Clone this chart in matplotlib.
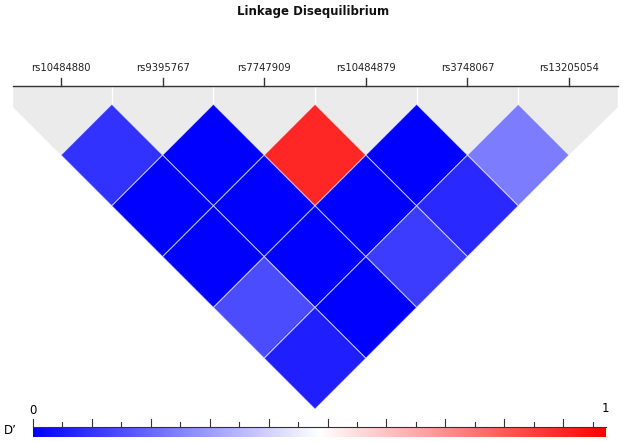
import numpy as np
import matplotlib
matplotlib.use("Agg")
import matplotlib.pyplot as plt
from matplotlib.colors import LinearSegmentedColormap
from matplotlib.patches import Polygon

# SNP names, left to right
snps = ["rs10484880", "rs9395767", "rs7747909", "rs10484879", "rs3748067", "rs13205054"]

# pairwise D' (i, j, value)
pair_i = [0, 1, 2, 3, 4, 0, 1, 2, 3, 0, 1, 2, 0, 1, 0]
pair_j = [1, 2, 3, 4, 5, 2, 3, 4, 5, 3, 4, 5, 4, 5, 5]
dprime = [0.10, 0.0, 0.925, 0.0, 0.245,
          0.0, 0.0, 0.0, 0.08,
          0.0, 0.0, 0.12,
          0.15, 0.0,
          0.06]

cmap = LinearSegmentedColormap.from_list("ld", ["#0000ff", "#ffffff", "#ff0000"])

fig = plt.figure(figsize=(6.24, 4.42), dpi=100)
ax = fig.add_axes([0, 0, 1, 1])
unit = 101.6  # px per SNP step
ax.set_xlim(-61 / unit, (624 - 61) / unit)
ax.set_ylim(-(442 - 86) / unit, 86 / unit)
ax.axis("off")

n = len(snps)
gap = 0.18
# grey background under the top row
left, right = -0.47, n - 1 + 0.48
grey = Polygon([(left, 0), (right, 0), (right, -0.21), (n - 1, -0.5 - gap),
                (0, -0.5 - gap), (left, -0.21)], closed=True,
               facecolor="#ebebeb", edgecolor="none", zorder=1)
ax.add_patch(grey)
for k in range(n - 1):
    ax.plot([k + 0.5, k + 0.5], [0, -gap], color="white", lw=1, zorder=2)

# ruler with marker ticks
ax.plot([left, right], [0, 0], color="#333333", lw=1, zorder=3)
for k, name in enumerate(snps):
    ax.plot([k, k], [0, 0.08], color="#333333", lw=1, zorder=3)
    ax.text(k, 0.18, name, ha="center", va="center", fontsize=7.2, color="#222222")

# LD diamonds
for i, j, v in zip(pair_i, pair_j, dprime):
    cx = (i + j) / 2
    cy = -gap - (j - i) / 2
    d = Polygon([(cx, cy + 0.5), (cx + 0.5, cy), (cx, cy - 0.5), (cx - 0.5, cy)],
                closed=True, facecolor=cmap(v), edgecolor=(1, 1, 1, 0.55),
                lw=0.8, zorder=4)
    ax.add_patch(d)

fig.text(313 / 624, 1 - 11 / 442, "Linkage Disequilibrium", ha="center", va="center",
         fontsize=8.5, fontweight="bold", color="#111111")

# colour bar
cax = fig.add_axes([33 / 624, 5 / 442, 573 / 624, 10 / 442])
grad = np.linspace(0, 1, 512).reshape(1, -1)
cax.imshow(grad, aspect="auto", cmap=cmap, extent=[0, 1, 0, 1])
cax.set_xlim(0, 1)
cax.set_ylim(0, 1)
cax.axis("off")
cax.plot([0, 1], [1.05, 1.05], color="#333333", lw=0.8, clip_on=False)
step = 29.45 / 573
for k in range(20):
    x = k * step
    h = 0.8 if k % 2 == 0 else 0.45
    cax.plot([x, x], [1.05, 1.05 + h], color="#333333", lw=0.8, clip_on=False)
fig.text(33 / 624, 1 - 410 / 442, "0", ha="center", va="center", fontsize=8.5)
fig.text(605 / 624, 1 - 408 / 442, "1", ha="center", va="center", fontsize=8.5)
fig.text(10 / 624, 1 - 431 / 442, "D\u2019", ha="center", va="center", fontsize=8.5)

fig.savefig("out.png", dpi=100)
